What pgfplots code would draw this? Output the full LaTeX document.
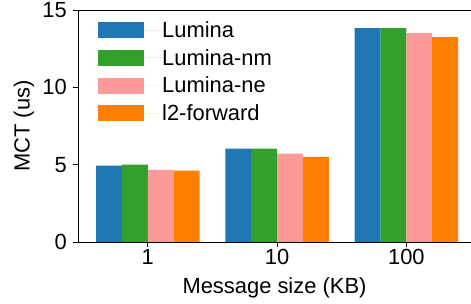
\documentclass[border=0pt]{standalone}
\usepackage{fontspec}
\setmainfont{Liberation Sans}
\usepackage{pgfplots}
\pgfplotsset{compat=1.18}
\definecolor{cblue}{HTML}{1F78B4}
\definecolor{cgreen}{HTML}{33A02C}
\definecolor{cpink}{HTML}{FB9A99}
\definecolor{corange}{HTML}{FF7F00}
\begin{document}
\begin{tikzpicture}
\begin{axis}[
  name=ax,
  scale only axis,
  width=393bp, height=232bp,
  xmin=-0.54, xmax=2.5,
  ymin=0, ymax=15,
  ybar, bar width=0.2,
  axis x line*=bottom, axis y line*=left,
  axis line style={line width=0.8pt, -},
  xtick={0,1,2}, xticklabels={1,10,100},
  ytick={0,5,10,15},
  tick align=outside,
  major tick length=5bp,
  tick style={line width=0.8pt, black},
  /pgf/number format/assume math mode=true,
  tick label style={font=\fontsize{22}{26}\selectfont},
  xticklabel style={inner sep=0pt, yshift=-2bp},
  yticklabel style={inner sep=0pt, xshift=-6bp},
  label style={font=\fontsize{22}{26}\selectfont},
  xlabel={Message size (KB)},
  ylabel={MCT (us)},
  xlabel style={inner sep=0pt, yshift=-13bp},
  ylabel style={inner sep=0pt, yshift=8bp},
  legend style={at={(axis description cs:0,1)}, anchor=north west,
    xshift=17bp, yshift=-9.5bp, draw=none, fill=none,
    font=\fontsize{22}{26}\selectfont, row sep=10.2bp,
    nodes={inner sep=0pt, anchor=west}},
  legend cell align=left,
  legend image code/.code={\fill[#1, draw=none] (0bp,-8bp) rectangle (46bp,8bp); \path (0,0) -- (64bp,0);},
]
\addplot[fill=cblue, draw=none, bar shift=-0.3] coordinates {(0,4.93) (1,6.03) (2,13.83)};
\addplot[fill=cgreen, draw=none, bar shift=-0.1] coordinates {(0,5.00) (1,6.03) (2,13.83)};
\addplot[fill=cpink, draw=none, bar shift=0.1] coordinates {(0,4.67) (1,5.71) (2,13.51)};
\addplot[fill=corange, draw=none, bar shift=0.3] coordinates {(0,4.61) (1,5.51) (2,13.25)};
\legend{Lumina, Lumina-nm, Lumina-ne, l2-forward}
\end{axis}
\draw[line width=0.8pt] (ax.north west) -- (ax.north east);
\pgfresetboundingbox
\path[use as bounding box] ([xshift=-78bp,yshift=-62bp]ax.south west) rectangle ([yshift=10bp]ax.north east);
\end{tikzpicture}
\end{document}
